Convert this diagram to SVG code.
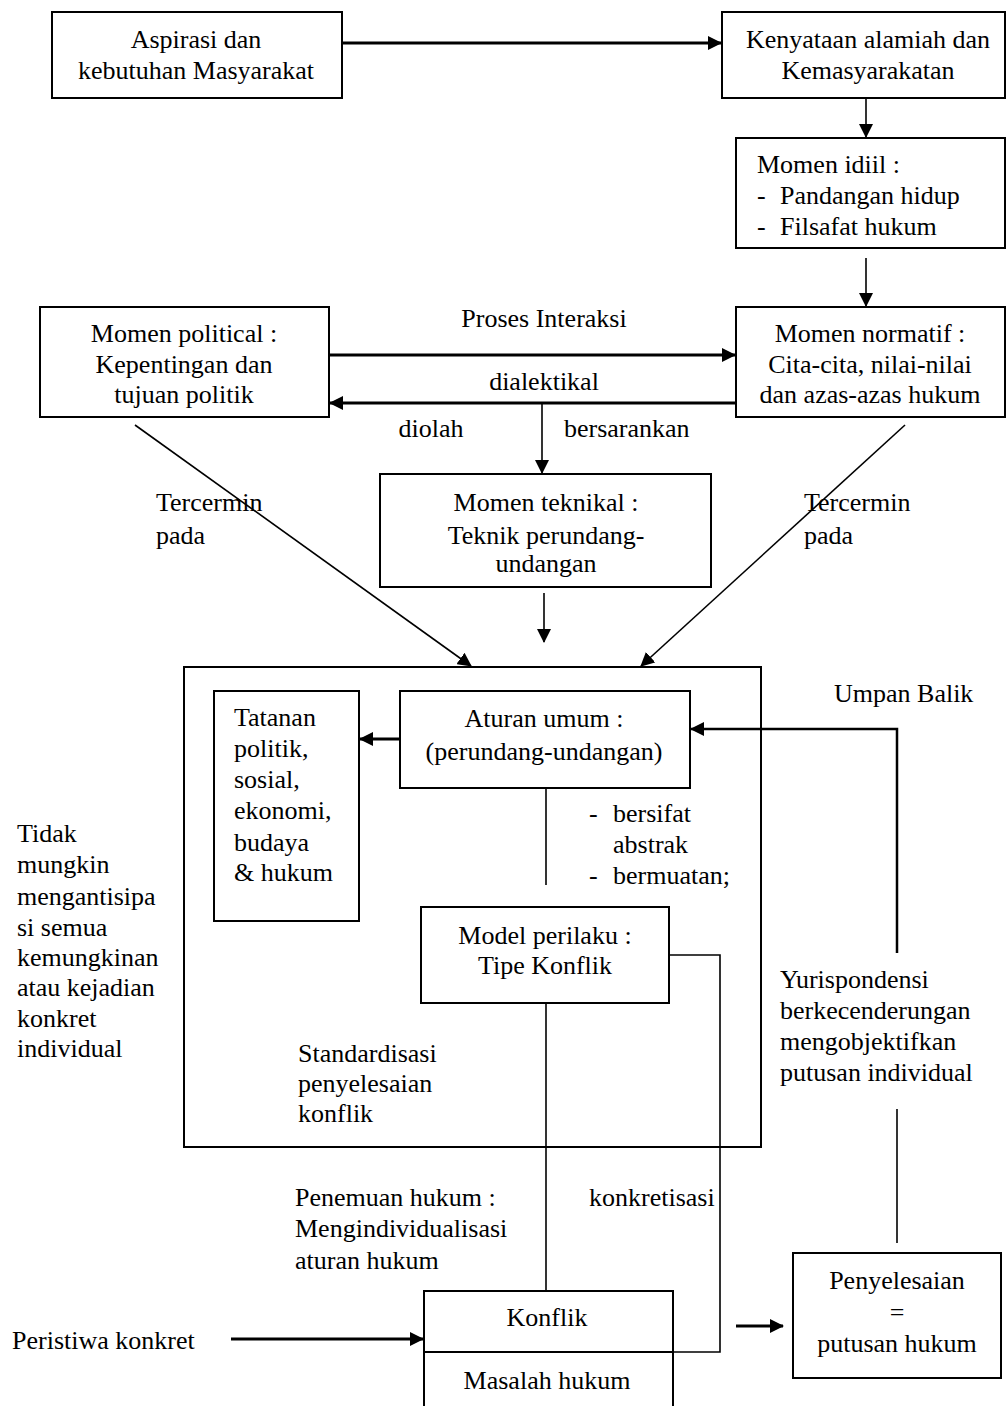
<svg xmlns="http://www.w3.org/2000/svg" width="1006" height="1406" viewBox="0 0 1006 1406">
<style>
text{font-family:"Liberation Serif","Times New Roman",serif;font-size:26px;fill:#000}
.c{text-anchor:middle}
.box{fill:#fff;stroke:#000;stroke-width:2}
.ln{fill:none;stroke:#000;stroke-width:1.6}
.thick{fill:none;stroke:#000;stroke-width:3}
</style>
<defs>
<marker id="ah" markerUnits="userSpaceOnUse" markerWidth="14" markerHeight="14" refX="13" refY="7" orient="auto">
<path d="M0,0 L14,7 L0,14 z" fill="#000"/>
</marker>
</defs>
<rect width="1006" height="1406" fill="#fff"/>

<g id="connectors">
<line class="thick" x1="342" y1="43" x2="721" y2="43" marker-end="url(#ah)"/>
<line class="ln" x1="866" y1="90" x2="866" y2="137" marker-end="url(#ah)"/>
<line class="ln" x1="866" y1="258" x2="866" y2="306" marker-end="url(#ah)"/>
<line class="thick" x1="329" y1="355" x2="735" y2="355" marker-end="url(#ah)"/>
<line class="thick" x1="736" y1="403" x2="330" y2="403" marker-end="url(#ah)"/>
<line class="ln" x1="542" y1="403" x2="542" y2="473" marker-end="url(#ah)"/>
<line class="ln" x1="135" y1="425" x2="471" y2="666" marker-end="url(#ah)"/>
<line class="ln" x1="905" y1="425" x2="641" y2="666" marker-end="url(#ah)"/>
<line class="ln" x1="544" y1="593" x2="544" y2="642" marker-end="url(#ah)"/>
<line class="thick" x1="400" y1="739" x2="360" y2="739" marker-end="url(#ah)"/>
<line class="ln" x1="546" y1="788" x2="546" y2="885"/>
<path class="thick" d="M897,953 V729 H691" marker-end="url(#ah)" style="stroke-width:2.5"/>
<line class="ln" x1="897" y1="1109" x2="897" y2="1243"/>
<line class="ln" x1="546" y1="1003" x2="546" y2="1291"/>
<path class="ln" d="M669,955 H720 V1352 H673"/>
<line class="thick" x1="231" y1="1339" x2="423" y2="1339" marker-end="url(#ah)"/>
<line class="thick" x1="736" y1="1326" x2="783" y2="1326" marker-end="url(#ah)"/>
</g>

<g id="aspirasi">
<rect class="box" x="52" y="12" width="290" height="86"/>
<text class="c" x="196" y="48">Aspirasi dan</text>
<text class="c" x="196" y="79">kebutuhan Masyarakat</text>
</g>
<g id="kenyataan">
<rect class="box" x="722" y="12" width="283" height="86"/>
<text class="c" x="868" y="48">Kenyataan alamiah dan</text>
<text class="c" x="868" y="79">Kemasyarakatan</text>
</g>
<g id="momen-idiil">
<rect class="box" x="736" y="138" width="269" height="110"/>
<text x="757" y="173">Momen idiil :</text>
<text x="757" y="204">-</text><text x="780" y="204">Pandangan hidup</text>
<text x="757" y="235">-</text><text x="780" y="235">Filsafat hukum</text>
</g>
<g id="momen-political">
<rect class="box" x="40" y="307" width="289" height="110"/>
<text class="c" x="184" y="342">Momen political :</text>
<text class="c" x="184" y="373">Kepentingan dan</text>
<text class="c" x="184" y="403">tujuan politik</text>
</g>
<g id="momen-normatif">
<rect class="box" x="736" y="307" width="269" height="110"/>
<text class="c" x="870" y="342">Momen normatif :</text>
<text class="c" x="870" y="373">Cita-cita, nilai-nilai</text>
<text class="c" x="870" y="403">dan azas-azas hukum</text>
</g>
<g id="labels-interaksi">
<text class="c" x="544" y="327">Proses Interaksi</text>
<text class="c" x="544" y="390">dialektikal</text>
<text class="c" x="431" y="437">diolah</text>
<text x="564" y="437">bersarankan</text>
<text x="156" y="511">Tercermin</text>
<text x="156" y="544">pada</text>
<text x="804" y="511">Tercermin</text>
<text x="804" y="544">pada</text>
</g>
<g id="momen-teknikal">
<rect class="box" x="380" y="474" width="331" height="113"/>
<text class="c" x="546" y="511">Momen teknikal :</text>
<text class="c" x="546" y="544">Teknik perundang-</text>
<text class="c" x="546" y="572">undangan</text>
</g>
<g id="sistem">
<rect class="box" x="184" y="667" width="577" height="480" style="fill:none"/>
<text x="298" y="1062">Standardisasi</text>
<text x="298" y="1092">penyelesaian</text>
<text x="298" y="1122">konflik</text>
</g>
<g id="tatanan">
<rect class="box" x="214" y="691" width="145" height="230"/>
<text x="234" y="726">Tatanan</text>
<text x="234" y="757">politik,</text>
<text x="234" y="788">sosial,</text>
<text x="234" y="819">ekonomi,</text>
<text x="234" y="851">budaya</text>
<text x="234" y="881">&amp; hukum</text>
</g>
<g id="aturan-umum">
<rect class="box" x="400" y="691" width="290" height="97"/>
<text class="c" x="544" y="727">Aturan umum :</text>
<text class="c" x="544" y="760">(perundang-undangan)</text>
</g>
<g id="sifat">
<text x="589" y="822">-</text><text x="613" y="822">bersifat</text>
<text x="613" y="853">abstrak</text>
<text x="589" y="884">-</text><text x="613" y="884">bermuatan;</text>
</g>
<g id="model-perilaku">
<rect class="box" x="421" y="907" width="248" height="96"/>
<text class="c" x="545" y="944">Model perilaku :</text>
<text class="c" x="545" y="974">Tipe Konflik</text>
</g>
<g id="umpan-balik">
<text x="834" y="702">Umpan Balik</text>
<text x="780" y="988">Yurispondensi</text>
<text x="780" y="1019">berkecenderungan</text>
<text x="780" y="1050">mengobjektifkan</text>
<text x="780" y="1081">putusan individual</text>
</g>
<g id="tidak-mungkin">
<text x="17" y="842">Tidak</text>
<text x="17" y="873">mungkin</text>
<text x="17" y="905">mengantisipa</text>
<text x="17" y="936">si semua</text>
<text x="17" y="966">kemungkinan</text>
<text x="17" y="996">atau kejadian</text>
<text x="17" y="1027">konkret</text>
<text x="17" y="1057">individual</text>
</g>
<g id="penemuan">
<text x="295" y="1206">Penemuan hukum :</text>
<text x="295" y="1237">Mengindividualisasi</text>
<text x="295" y="1269">aturan hukum</text>
<text x="589" y="1206">konkretisasi</text>
</g>
<g id="konflik">
<path class="box" d="M424,1406 V1291 H673 V1406" style="fill:none"/>
<line class="ln" x1="424" y1="1352" x2="673" y2="1352" style="stroke-width:2"/>
<text class="c" x="547" y="1326">Konflik</text>
<text class="c" x="547" y="1389">Masalah hukum</text>
</g>
<g id="peristiwa">
<text x="12" y="1349">Peristiwa konkret</text>
</g>
<g id="penyelesaian">
<rect class="box" x="793" y="1253" width="208" height="125"/>
<text class="c" x="897" y="1289">Penyelesaian</text>
<text class="c" x="897" y="1321">=</text>
<text class="c" x="897" y="1352">putusan hukum</text>
</g>
</svg>
